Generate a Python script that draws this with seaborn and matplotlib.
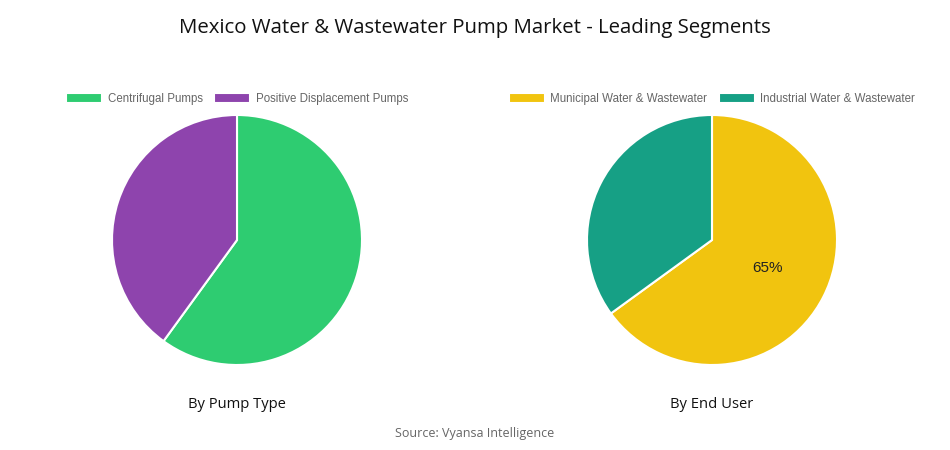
import matplotlib
matplotlib.use("Agg")
import matplotlib.pyplot as plt
import seaborn as sns

sns.set_theme(style="white")
plt.rcParams['font.family'] = ['Open Sans', 'DejaVu Sans']

title = "Mexico Water & Wastewater Pump Market - Leading Segments"
source = "Source: Vyansa Intelligence"

pump_labels = ["Centrifugal Pumps", "Positive Displacement Pumps"]
pump_values = [60, 40]
pump_colors = ["#2ECC71", "#8E44AD"]
pump_title = "By Pump Type"

user_labels = ["Municipal Water & Wastewater", "Industrial Water & Wastewater"]
user_values = [65, 35]
user_colors = ["#F1C40F", "#16A085"]
user_title = "By End User"

W, H = 950, 450
fig = plt.figure(figsize=(9.5, 4.5), dpi=100)
fig.patch.set_facecolor("white")

R = 125

def make_pie(cx, cy, labels, values, colors, subtitle, show_pct):
    ax = fig.add_axes([(cx - R) / W, (H - cy - R) / H, 2 * R / W, 2 * R / H])
    kw = {}
    if show_pct:
        kw = dict(autopct=lambda p: f"{p:.0f}%" if p > 50 else "", pctdistance=0.5,
                  textprops=dict(fontsize=11, color="#222222", family=["Liberation Sans", "DejaVu Sans"]))
    wedges, *_ = ax.pie(values, colors=colors, startangle=90, counterclock=False, radius=1,
                        wedgeprops=dict(edgecolor="white", linewidth=1.5), **kw)
    ax.set_xlim(-1.0, 1.0)
    ax.set_ylim(-1.0, 1.0)
    ax.set_aspect("equal")
    ax.axis("off")
    leg = ax.legend(wedges, labels, loc="center", bbox_to_anchor=(0.5, 1 + 16 / (2 * R)),
                    ncol=2, frameon=False, handlelength=3.1, handleheight=0.85,
                    columnspacing=1.0, handletextpad=0.5,
                    prop=dict(family=["Liberation Sans", "DejaVu Sans"], size=8.3))
    for t in leg.get_texts():
        t.set_color("#666666")
    fig.text(cx / W, 1 - 405 / H, subtitle, ha="center", va="center", fontsize=10.6,
             color="#111111")

make_pie(237, 240, pump_labels, pump_values, pump_colors, pump_title, False)
make_pie(712, 240, user_labels, user_values, user_colors, user_title, True)

fig.text(0.5, 1 - 28 / H, title, ha="center", va="center", fontsize=14.7, color="#111111")
fig.text(0.5, 1 - 434 / H, source, ha="center", va="center", fontsize=9.0, color="#666666")

fig.savefig("out.png", dpi=100, facecolor="white")
